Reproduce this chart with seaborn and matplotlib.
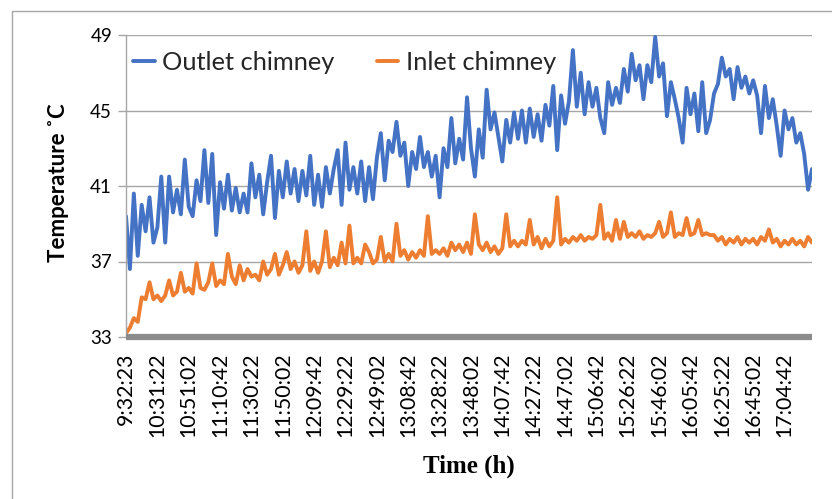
import numpy as np
import pandas as pd
import matplotlib
matplotlib.use("Agg")
import matplotlib.pyplot as plt
import seaborn as sns
from matplotlib.patches import Rectangle

# ---------------- data ----------------
outlet = [
    39.4, 36.6, 40.6, 37.3, 40.0, 38.6, 40.4, 38.0, 38.8, 41.5,
    38.0, 41.5, 39.6, 40.8, 39.5, 42.4, 39.9, 39.4, 41.3, 40.2,
    42.9, 40.1, 42.7, 38.4, 41.2, 39.8, 41.6, 39.7, 40.9, 39.6,
    40.6, 39.6, 42.2, 40.4, 41.6, 39.5, 41.2, 42.6, 39.3, 41.8,
    40.4, 42.3, 40.6, 41.9, 40.2, 41.8, 40.5, 42.6, 40.0, 41.6,
    39.9, 42.0, 40.6, 41.9, 42.9, 40.0, 43.3, 40.8, 42.0, 40.6,
    42.3, 40.2, 42.0, 40.3, 42.5, 43.8, 41.3, 43.4, 42.8, 44.4,
    42.6, 43.3, 41.0, 42.8, 41.9, 43.6, 42.0, 42.8, 41.5, 42.6,
    40.4, 43.0, 42.0, 44.6, 42.2, 43.5, 42.4, 45.7, 43.0, 41.5,
    44.0, 42.5, 46.1, 44.0, 44.9, 43.6, 42.3, 44.5, 43.3, 44.9,
    43.5, 45.0, 43.3, 45.1, 43.6, 44.8, 43.4, 45.3, 44.2, 46.3,
    42.9, 45.8, 44.3, 45.5, 48.2, 45.2, 47.0, 44.8, 46.5, 45.2,
    46.2, 44.6, 43.8, 46.5, 45.3, 46.2, 45.4, 47.2, 46.0, 48.0,
    46.6, 47.4, 45.6, 47.4, 46.5, 48.9, 46.8, 47.5, 44.7, 46.5,
    45.6, 44.6, 43.3, 46.2, 44.8, 45.9, 43.9, 46.5, 43.8, 44.5,
    45.9, 46.4, 47.8, 46.8, 47.2, 45.6, 47.3, 46.2, 46.8, 45.9,
    46.6, 45.8, 43.8, 46.3, 44.6, 45.6, 44.2, 42.6, 45.0, 44.0,
    44.6, 43.3, 43.8, 42.7, 40.8, 41.9,
]

inlet = [
    33.2, 33.5, 34.0, 33.8, 35.1, 35.0, 35.9, 35.0, 35.2, 34.9,
    35.2, 36.0, 35.2, 35.4, 36.4, 35.4, 35.6, 35.3, 36.9, 35.6,
    35.5, 35.9, 36.9, 35.7, 36.0, 35.8, 37.4, 36.2, 35.8, 36.8,
    36.0, 36.6, 36.2, 36.3, 36.0, 37.0, 36.3, 36.6, 37.4, 36.3,
    36.8, 37.5, 36.6, 37.0, 36.4, 36.8, 38.6, 36.5, 37.0, 36.4,
    37.0, 38.6, 36.7, 37.2, 36.8, 38.0, 36.9, 38.9, 36.9, 37.2,
    36.9, 37.9, 37.5, 36.9, 37.1, 38.3, 37.0, 37.4, 37.0, 39.0,
    37.3, 37.6, 37.1, 37.5, 37.2, 37.6, 37.3, 39.4, 37.4, 37.6,
    37.4, 37.7, 37.3, 38.0, 37.6, 37.9, 37.5, 38.0, 37.4, 39.5,
    37.9, 37.6, 38.0, 37.5, 37.8, 37.4, 37.7, 39.5, 37.8, 38.1,
    37.8, 38.1, 37.9, 39.2, 37.9, 38.3, 37.7, 38.2, 37.8, 38.1,
    40.4, 37.9, 38.2, 38.0, 38.3, 38.1, 38.4, 38.1, 38.3, 38.2,
    38.4, 40.0, 38.2, 38.5, 38.1, 39.2, 38.2, 39.1, 38.3, 38.5,
    38.3, 38.6, 38.2, 38.4, 38.3, 38.5, 39.1, 38.3, 38.5, 39.6,
    38.3, 38.5, 38.4, 39.3, 38.4, 38.5, 39.2, 38.4, 38.5, 38.4,
    38.4, 38.1, 38.3, 37.9, 38.2, 38.0, 38.3, 37.9, 38.2, 38.0,
    38.2, 37.9, 38.3, 38.1, 38.7, 38.0, 38.2, 37.8, 38.1, 37.9,
    38.2, 37.9, 38.1, 37.8, 38.3, 38.0,
]

time_labels = [
    "9:32:23", "10:31:22", "10:51:02", "11:10:42", "11:30:22", "11:50:02",
    "12:09:42", "12:29:22", "12:49:02", "13:08:42", "13:28:22", "13:48:02",
    "14:07:42", "14:27:22", "14:47:02", "15:06:42", "15:26:22", "15:46:02",
    "16:05:42", "16:25:22", "16:45:02", "17:04:42",
]
label_every = 8
y_ticks = [33, 37, 41, 45, 49]
series_names = ["Outlet chimney", "Inlet chimney"]
colors = ["#4472C4", "#ED7D31"]

# ---------------- figure ----------------
sns.set_theme(style="white")
plt.rcParams["font.family"] = ["Lato", "DejaVu Sans"]

n = len(outlet)
df = pd.DataFrame({
    "idx": list(range(n)) * 2,
    "temp": outlet + inlet,
    "series": [series_names[0]] * n + [series_names[1]] * len(inlet),
})

fig = plt.figure(figsize=(8.32, 4.99), dpi=100)
ax = fig.add_axes([126 / 832, 1 - 337 / 499, 686 / 832, 302 / 499])

sns.lineplot(data=df, x="idx", y="temp", hue="series", palette=colors,
             estimator=None, linewidth=2.8, ax=ax)

ax.set_xlim(0, n - 1)
ax.set_ylim(33, 49)
ax.set_yticks(y_ticks)
ax.set_yticklabels([str(v) for v in y_ticks])
ax.set_xticks(list(range(0, label_every * len(time_labels), label_every)))
ax.set_xticklabels(time_labels, rotation=90)

ax.grid(axis="y", color="#a6a6a6", linewidth=1.0)
ax.grid(axis="x", visible=False)
ax.set_axisbelow(True)

for s in ["top", "right"]:
    ax.spines[s].set_visible(False)
ax.spines["left"].set_color("#a6a6a6")
ax.spines["left"].set_linewidth(1.0)
ax.spines["bottom"].set_color("#8c8c8c")
ax.spines["bottom"].set_linewidth(4.5)
ax.spines["bottom"].set_capstyle("butt")

ax.tick_params(axis="y", which="both", left=True, length=6, width=1.0,
               color="#a6a6a6", pad=4, labelsize=13.5, labelcolor="black")
ax.tick_params(axis="x", which="both", bottom=False, length=0, pad=11,
               labelsize=15.3, labelcolor="black")

ax.set_ylabel("Temperature ˚C", fontsize=16, fontweight="bold",
              color="black", va="center")
ax.yaxis.set_label_coords((59 - 126) / 686, (337 - 183) / 302)
ax.set_xlabel("Time (h)", fontsize=18, fontweight="bold", color="black",
              family=["Liberation Serif", "DejaVu Serif"], va="center")
ax.xaxis.set_label_coords(0.5, (337 - 466) / 302)

handles, labels = ax.get_legend_handles_labels()
leg = ax.legend(handles, labels, loc="center left",
                bbox_to_anchor=((133 - 126) / 686, (337 - 62) / 302),
                ncol=2, frameon=False, fontsize=18.3, handlelength=0.85,
                handletextpad=0.3, columnspacing=1.65, borderpad=0,
                borderaxespad=0)
for line in leg.get_lines():
    line.set_linewidth(2.8)

# outer chart-area border (left and top visible)
fig.patches.append(Rectangle((12 / 832, -0.1), 1.2, (1 - 11 / 499) + 0.1,
                             transform=fig.transFigure, fill=False,
                             edgecolor="#a6a6a6", linewidth=1.0))

fig.savefig("out.png", dpi=100)
